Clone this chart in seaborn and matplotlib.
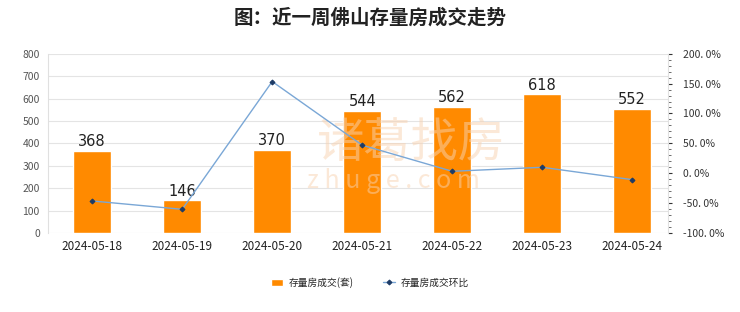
import numpy as np
import pandas as pd
import seaborn as sns
import matplotlib.pyplot as plt
from matplotlib.ticker import MultipleLocator, FuncFormatter

# data
dates = ['2024-05-18', '2024-05-19', '2024-05-20', '2024-05-21',
         '2024-05-22', '2024-05-23', '2024-05-24']
deals = [368, 146, 370, 544, 562, 618, 552]
change = [-46.3, -60.3, 153.4, 47.0, 3.3, 10.0, -10.7]

sns.set_style('white')
plt.rcParams['font.family'] = ['Noto Sans CJK SC', 'DejaVu Sans']

df = pd.DataFrame({'date': dates, 'deals': deals, 'change': change})

fig = plt.figure(figsize=(7.4, 3.12), dpi=100)
ax = fig.add_axes([0.065, 0.253, 0.838, 0.575])

sns.barplot(data=df, x='date', y='deals', color='#ff8a00', saturation=1,
            width=0.42, ax=ax, label='存量房成交(套)')
if ax.get_legend() is not None:
    ax.get_legend().remove()
for i, v in enumerate(deals):
    ax.text(i, v + 8, str(v), ha='center', va='bottom', fontsize=10.5,
            color='#222222', family='DejaVu Sans', zorder=5)

ax.set_ylim(0, 800)
ax.yaxis.set_major_locator(MultipleLocator(100))
ax.grid(axis='y', color='#e4e4e4', linewidth=0.8)
ax.set_axisbelow(True)
ax.set_xlabel('')
ax.set_ylabel('')
for s in ['top', 'right', 'bottom']:
    ax.spines[s].set_visible(False)
ax.spines['left'].set_color('#e0e0e0')
ax.tick_params(axis='y', labelsize=7.5, colors='#555555', length=0, pad=6)
ax.tick_params(axis='x', labelsize=8.5, colors='#222222', length=0, pad=5)
ax.set_xlim(-0.49, 6.4)

ax2 = ax.twinx()
sns.lineplot(x=np.arange(len(dates)), y=change, ax=ax2, color='#7aa7d6',
             linewidth=1, marker='D', markersize=2.5, markerfacecolor='#1d3b66',
             markeredgecolor='#1d3b66', label='存量房成交环比', legend=False)
ax2.set_ylim(-100, 200)
ax2.yaxis.set_major_locator(MultipleLocator(50))
ax2.yaxis.set_minor_locator(MultipleLocator(10))
ax2.yaxis.set_major_formatter(FuncFormatter(lambda v, p: f'{v:.1f}'.replace('.', '. ') + '%'))
ax2.tick_params(axis='y', which='major', labelsize=7.5, colors='#333333', length=3, width=0.8, pad=8)
ax2.tick_params(axis='y', which='minor', length=2, width=0.6, colors='#555555')
for s in ['top', 'left', 'bottom']:
    ax2.spines[s].set_visible(False)
ax2.spines['right'].set_color('#e0e0e0')
ax2.set_ylabel('')

# watermark
ax.text(3.55, 400, '诸葛找房', ha='center', va='center', fontsize=34,
        color='#f8d2b0', alpha=0.5, zorder=1)
ax.text(3.35, 230, 'z h u g e . c o m', ha='center', va='center', fontsize=18,
        color='#f8d2b0', alpha=0.5, zorder=1)

h1, l1 = ax.get_legend_handles_labels()
h2, l2 = ax2.get_legend_handles_labels()
fig.legend(h1 + h2, l1 + l2, loc='center', bbox_to_anchor=(0.5, 0.095), ncol=2,
           frameon=False, fontsize=7, handlelength=1.2, columnspacing=3,
           handletextpad=0.6)

fig.suptitle('图：近一周佛山存量房成交走势', fontsize=14, fontweight='bold',
             y=0.975, color='#222222')

fig.savefig('out.png', dpi=100, facecolor='white')
